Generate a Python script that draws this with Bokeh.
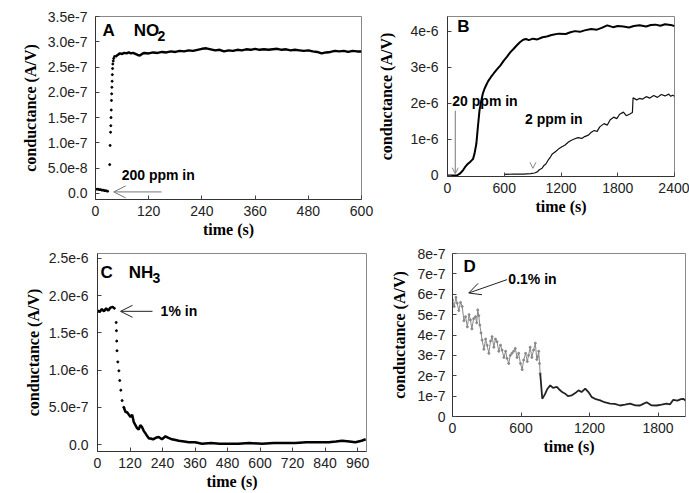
import numpy as np
from bokeh.plotting import figure
from bokeh.layouts import row, column
from bokeh.models import Range1d, FixedTicker, Arrow, OpenHead, Label, Spacer
from bokeh.embed import file_html
from bokeh.resources import INLINE

# ---------------- data ----------------
# Panel A: NO2, 200 ppm; conductance in units of 1e-7 A/V
A_base_t = [0, 3, 6, 9, 12, 15, 18, 21, 24, 27, 30]
A_base_g = [0.09, 0.08, 0.09, 0.07, 0.08, 0.06, 0.07, 0.05, 0.06, 0.04, 0.05]
A_rise_t = [32, 33, 34, 34.5, 35, 35.5, 36, 36.5, 37, 37.5, 38, 38.5, 39, 40, 41, 43]
A_rise_g = [0.57, 0.95, 1.21, 1.34, 1.50, 1.65, 1.84, 1.97, 2.10, 2.22, 2.35, 2.47, 2.56, 2.62, 2.67, 2.71]
A_plat_t = [45, 50, 55, 60, 65, 70, 75, 80, 85, 90, 95, 100, 105, 110, 120, 130, 140, 150, 160,
            170, 180, 190, 200, 210, 220, 230, 240, 250, 260, 270, 280, 290, 300, 310, 320, 330,
            340, 350, 360, 370, 380, 390, 400, 410, 420, 430, 440, 450, 460, 470, 480, 490, 500,
            510, 520, 530, 540, 550, 560, 570, 580, 590, 600]
A_plat_g = [2.70, 2.74, 2.77, 2.76, 2.78, 2.77, 2.79, 2.77, 2.78, 2.76, 2.74, 2.73, 2.76, 2.78,
            2.77, 2.79, 2.78, 2.80, 2.79, 2.81, 2.80, 2.82, 2.81, 2.83, 2.82, 2.84, 2.86, 2.87,
            2.85, 2.83, 2.84, 2.81, 2.83, 2.82, 2.84, 2.83, 2.85, 2.84, 2.86, 2.84, 2.85, 2.84,
            2.85, 2.86, 2.84, 2.85, 2.83, 2.84, 2.83, 2.82, 2.83, 2.81, 2.80, 2.77, 2.79, 2.80,
            2.82, 2.81, 2.82, 2.80, 2.82, 2.81, 2.81]

# Panel B: 20 ppm and 2 ppm; conductance in units of 1e-6 A/V
B20_t = [0, 60, 99, 130, 160, 185, 210, 236, 255, 270, 285, 305, 321, 338, 355, 373, 390, 407,
         430, 458, 490, 527, 560, 595, 630, 663, 700, 731, 765, 800, 830, 860, 903, 950, 1005,
         1050, 1100, 1176, 1250, 1300, 1347, 1400, 1450, 1518, 1580, 1630, 1689, 1750, 1800,
         1860, 1920, 1970, 2031, 2100, 2150, 2200, 2250, 2300, 2375, 2400]
B20_g = [0.0, 0.0, 0.0, 0.05, 0.13, 0.23, 0.31, 0.37, 0.42, 0.46, 0.60, 0.88, 1.34, 1.80, 2.05,
         2.27, 2.40, 2.50, 2.62, 2.73, 2.84, 2.96, 3.06, 3.19, 3.30, 3.42, 3.52, 3.61, 3.70, 3.77,
         3.79, 3.76, 3.80, 3.78, 3.84, 3.86, 3.90, 3.94, 3.93, 3.98, 4.01, 3.99, 4.03, 4.07, 4.05,
         4.10, 4.17, 4.12, 4.15, 4.14, 4.11, 4.15, 4.17, 4.14, 4.18, 4.19, 4.16, 4.20, 4.17, 4.15]
B2_t = [600, 700, 800, 880, 920, 950, 971, 1000, 1020, 1040, 1070, 1090, 1108, 1140, 1176, 1210,
        1240, 1279, 1310, 1347, 1380, 1420, 1450, 1490, 1520, 1552, 1580, 1610, 1655, 1690, 1720,
        1757, 1790, 1820, 1860, 1890, 1928, 1955, 1962, 2000, 2030, 2060, 2100, 2140, 2180, 2220,
        2260, 2300, 2340, 2360, 2380, 2400]
B2_g = [0.03, 0.04, 0.04, 0.05, 0.07, 0.10, 0.16, 0.20, 0.28, 0.32, 0.45, 0.52, 0.60, 0.66, 0.74,
        0.80, 0.84, 0.93, 0.98, 1.02, 1.05, 1.03, 1.08, 1.12, 1.20, 1.25, 1.22, 1.35, 1.44, 1.40,
        1.55, 1.62, 1.58, 1.70, 1.76, 1.66, 1.71, 1.75, 2.16, 2.10, 2.14, 2.12, 2.19, 2.15, 2.22,
        2.17, 2.25, 2.21, 2.26, 2.20, 2.23, 2.20]

# Panel C: NH3, 1%; conductance in units of 1e-6 A/V
C_flat_t = [0, 8, 16, 24, 32, 40, 48, 56, 62, 66]
C_flat_g = [1.80, 1.78, 1.82, 1.79, 1.83, 1.80, 1.84, 1.85, 1.83, 1.82]
C_drop_t = [69, 70, 71, 72, 75, 79, 82, 86, 91, 97]
C_drop_g = [1.64, 1.53, 1.39, 1.26, 1.11, 0.99, 0.86, 0.73, 0.59, 0.50]
C_tail_t = [97, 103, 110, 116, 122, 128, 134, 140, 146, 152, 158, 165, 171, 177, 184, 190, 196,
            205, 215, 226, 238, 251, 262, 275, 288, 300, 320, 337, 360, 386, 420, 450, 485, 520,
            560, 608, 650, 690, 731, 770, 810, 854, 880, 903, 930, 952, 975, 990]
C_tail_g = [0.50, 0.44, 0.43, 0.40, 0.37, 0.40, 0.30, 0.26, 0.22, 0.20, 0.26, 0.23, 0.18, 0.15,
            0.11, 0.08, 0.08, 0.07, 0.09, 0.10, 0.07, 0.11, 0.09, 0.07, 0.06, 0.05, 0.04, 0.03,
            0.03, 0.01, 0.02, 0.01, 0.01, 0.01, 0.02, 0.01, 0.02, 0.02, 0.02, 0.03, 0.03, 0.03,
            0.04, 0.05, 0.04, 0.03, 0.05, 0.07]

# Panel D: 0.1%; conductance in units of 1e-7 A/V
D_early_t = [0, 15, 30, 41, 55, 70, 85, 100, 114, 130, 145, 157, 170, 185, 201, 212, 221, 230,
             239, 250, 259, 275, 290, 303, 318, 333, 347, 362, 376, 390, 405, 420, 434, 450, 465,
             478, 492, 506, 520, 535, 550, 565, 579, 595, 610, 623, 640, 655, 666, 680, 695, 710,
             725, 738, 745, 755, 762, 768]
D_early_g = [5.73, 5.40, 5.85, 5.56, 5.20, 5.60, 5.40, 4.70, 4.90, 4.40, 5.00, 4.74, 4.30, 4.80,
             4.90, 4.60, 5.23, 4.95, 4.49, 4.10, 3.75, 3.30, 3.80, 3.50, 3.10, 3.70, 3.92, 3.40,
             3.80, 3.67, 3.20, 3.50, 3.26, 2.90, 3.20, 2.85, 2.60, 3.00, 3.10, 3.20, 3.34, 2.90,
             3.10, 2.60, 2.30, 2.77, 3.10, 2.70, 3.00, 3.40, 2.90, 3.26, 3.60, 2.80, 2.93, 3.20,
             2.60, 2.11]
D_late_t = [768, 786, 800, 812, 830, 856, 880, 914, 940, 960, 987, 1010, 1045, 1075, 1103, 1130,
            1162, 1190, 1220, 1255, 1293, 1330, 1380, 1420, 1467, 1510, 1555, 1600, 1642, 1670,
            1700, 1740, 1788, 1830, 1875, 1905, 1933, 1970, 2000, 2020, 2040]
D_late_g = [2.11, 0.87, 1.00, 1.12, 1.35, 1.53, 1.40, 1.45, 1.30, 1.20, 1.12, 1.00, 1.04, 1.15,
            1.28, 1.20, 1.37, 1.20, 0.95, 0.85, 0.79, 0.70, 0.63, 0.62, 0.54, 0.58, 0.63, 0.55,
            0.54, 0.62, 0.70, 0.55, 0.54, 0.58, 0.63, 0.60, 0.82, 0.78, 0.85, 0.87, 0.79]

# tick values and labels
A_xticks = [0, 120, 240, 360, 480, 600]
A_yticks = [0.0, 0.5e-7, 1.0e-7, 1.5e-7, 2.0e-7, 2.5e-7, 3.0e-7, 3.5e-7]
A_ylabels = ["0.0", "5.0e-8", "1.0e-7", "1.5e-7", "2.0e-7", "2.5e-7", "3.0e-7", "3.5e-7"]
B_xticks = [0, 600, 1200, 1800, 2400]
B_yticks = [0.0, 1e-6, 2e-6, 3e-6, 4e-6]
B_ylabels = ["0", "1e-6", "2e-6", "3e-6", "4e-6"]
C_xticks = [0, 120, 240, 360, 480, 600, 720, 840, 960]
C_yticks = [0.0, 0.5e-6, 1.0e-6, 1.5e-6, 2.0e-6, 2.5e-6]
C_ylabels = ["0.0", "5.0e-7", "1.0e-6", "1.5e-6", "2.0e-6", "2.5e-6"]
D_xticks = [0, 600, 1200, 1800]
D_yticks = [0.0, 1e-7, 2e-7, 3e-7, 4e-7, 5e-7, 6e-7, 7e-7, 8e-7]
D_ylabels = ["0", "1e-7", "2e-7", "3e-7", "4e-7", "5e-7", "6e-7", "7e-7", "8e-7"]

TICK_FONT = "Liberation Sans"
LABEL_FONT = "Liberation Serif"


def make_fig(w, h, bl, br, bt, bb, xr, yr, xt, yt, ylab, ystand, xstand):
    p = figure(width=w, height=h, output_backend="svg", toolbar_location=None,
               x_range=Range1d(*xr), y_range=Range1d(*yr),
               min_border_left=bl, min_border_right=br, min_border_top=bt, min_border_bottom=bb)
    p.background_fill_color = "white"
    p.border_fill_color = "white"
    p.outline_line_color = "#888888"
    p.outline_line_width = 1
    p.xgrid.visible = False
    p.ygrid.visible = False
    p.xaxis.ticker = FixedTicker(ticks=xt)
    p.yaxis.ticker = FixedTicker(ticks=yt)
    p.yaxis.major_label_overrides = {v: s for v, s in zip(yt, ylab)}
    p.xaxis.major_label_overrides = {v: str(v) for v in xt}
    for ax in (p.xaxis, p.yaxis):
        ax.minor_tick_line_color = None
        ax.major_tick_in = 4
        ax.major_tick_out = 0
        ax.major_tick_line_color = "#444444"
        ax.axis_line_color = "#333333"
        ax.major_label_text_font = TICK_FONT
        ax.major_label_text_font_size = "14px"
        ax.major_label_text_color = "#222222"
        ax.axis_label_text_font = LABEL_FONT
        ax.axis_label_text_font_style = "bold"
        ax.axis_label_text_font_size = "16px"
        ax.axis_label_text_color = "#000000"
    p.xaxis.axis_label = "time (s)"
    p.yaxis.axis_label = "conductance (A/V)"
    p.yaxis.major_label_standoff = ystand[0]
    p.yaxis.axis_label_standoff = ystand[1]
    p.xaxis.major_label_standoff = xstand[0]
    p.xaxis.axis_label_standoff = xstand[1]
    return p


def lab(p, x, y, text, size="14px", color="#000000", baseline="middle"):
    p.add_layout(Label(x=x, y=y, text=text, text_font=TICK_FONT, text_font_style="bold",
                       text_font_size=size, text_color=color, text_baseline=baseline))


# ---------------- Panel A ----------------
pA = make_fig(375, 240, 95, 14, 16, 41, (0, 600), (-1.2e-8, 3.5e-7),
              A_xticks, A_yticks, A_ylabels, (8, 6), (6, 2))
pA.line(A_base_t, np.array(A_base_g) * 1e-7, line_color="black", line_width=2.5)
pA.scatter(A_rise_t, np.array(A_rise_g) * 1e-7, size=2, color="black")
pA.line(A_plat_t, np.array(A_plat_g) * 1e-7, line_color="black", line_width=2.5)
lab(pA, 16, 3.22e-7, "A", "17px")
lab(pA, 86, 3.22e-7, "NO", "17px")
lab(pA, 140, 3.12e-7, "2", "14px")
lab(pA, 59, 0.36e-7, "200 ppm in")
pA.add_layout(Arrow(end=OpenHead(size=12, line_color="#777777", line_width=1),
                    x_start=149, y_start=0.03e-7, x_end=41, y_end=0.03e-7,
                    line_color="#777777", line_width=1))

# ---------------- Panel B ----------------
pB = make_fig(314, 217, 65, 15, 16, 41, (0, 2400), (-0.028e-6, 4.416e-6),
              B_xticks, B_yticks, B_ylabels, (9, 12), (6, 2))
pB.line(B20_t, np.array(B20_g) * 1e-6, line_color="black", line_width=2)
pB.line(B2_t, np.array(B2_g) * 1e-6, line_color="#111111", line_width=1.2)
lab(pB, 103, 4.14e-6, "B", "17px")
lab(pB, 51, 2.08e-6, "20 ppm in")
lab(pB, 820, 1.56e-6, "2 ppm in")
pB.add_layout(Arrow(end=OpenHead(size=6, line_color="#888888", line_width=1),
                    x_start=82, y_start=1.8e-6, x_end=82, y_end=0.05e-6,
                    line_color="#777777", line_width=1))
pB.add_layout(Arrow(end=OpenHead(size=6, line_color="#888888", line_width=1),
                    x_start=903, y_start=0.35e-6, x_end=903, y_end=0.2e-6,
                    line_alpha=0))

# ---------------- Panel C ----------------
pC = make_fig(375, 253, 97, 9, 13, 42, (0, 993), (-0.094e-6, 2.567e-6),
              C_xticks, C_yticks, C_ylabels, (9, 4), (6, 2))
pC.line(C_flat_t, np.array(C_flat_g) * 1e-6, line_color="black", line_width=2.5)
pC.scatter(C_drop_t, np.array(C_drop_g) * 1e-6, size=2, color="black")
pC.line(C_tail_t, np.array(C_tail_g) * 1e-6, line_color="black", line_width=2.5)
lab(pC, 11, 2.31e-6, "C", "17px")
lab(pC, 115, 2.31e-6, "NH", "17px")
lab(pC, 203, 2.24e-6, "3", "14px")
lab(pC, 233, 1.79e-6, "1% in")
pC.add_layout(Arrow(end=OpenHead(size=12, line_color="#222222", line_width=1),
                    x_start=203, y_start=1.79e-6, x_end=85, y_end=1.79e-6,
                    line_color="#222222", line_width=1))

# ---------------- Panel D ----------------
pD = make_fig(314, 218, 77, 4, 13, 42, (0, 2040), (0, 8e-7),
              D_xticks, D_yticks, D_ylabels, (7, 6), (6, 2))
pD.line(D_early_t, np.array(D_early_g) * 1e-7, line_color="#888888", line_width=1)
pD.scatter(D_early_t, np.array(D_early_g) * 1e-7, size=2, color="#888888")
pD.line(D_late_t, np.array(D_late_g) * 1e-7, line_color="#222222", line_width=1.8)
lab(pD, 96, 7.36e-7, "D", "17px")
lab(pD, 489, 6.77e-7, "0.1% in")
pD.add_layout(Arrow(end=OpenHead(size=12, line_color="#222222", line_width=1),
                    x_start=478, y_start=6.72e-7, x_end=142, y_end=6.06e-7,
                    line_color="#222222", line_width=1))

layout = column(
    row(pA, column(pB, Spacer(width=314, height=23))),
    row(pC, column(pD, Spacer(width=314, height=35))),
)
open("out.html", "w").write(file_html(layout, INLINE))
